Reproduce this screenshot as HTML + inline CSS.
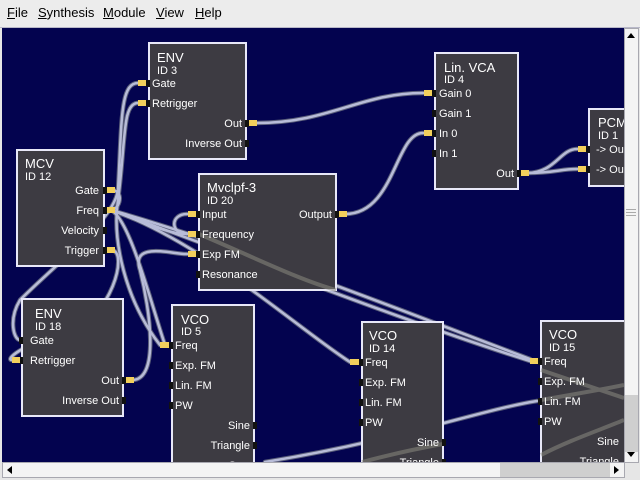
<!DOCTYPE html>
<html><head><meta charset="utf-8"><style>
html,body{margin:0;padding:0;width:640px;height:480px;overflow:hidden;background:#e6e6e6;font-family:"Liberation Sans",sans-serif}
#menu{position:absolute;left:0;top:0;width:640px;height:27px;background:#ececec;border-bottom:1px solid #b8b8c8;font-size:13px}
#menu span{position:absolute;top:5px;color:#000}
svg{position:absolute;left:0;top:0}
</style></head><body>
<div id="menu"><span style="left:7px"><u>F</u>ile</span><span style="left:38px"><u>S</u>ynthesis</span><span style="left:103px"><u>M</u>odule</span><span style="left:156px"><u>V</u>iew</span><span style="left:195px"><u>H</u>elp</span></div>
<svg width="640" height="480" viewBox="0 0 640 480" font-family="Liberation Sans, sans-serif" font-size="11" fill="#fff">
<defs><clipPath id="c"><rect x="2" y="28" width="622" height="434"/></clipPath></defs>
<rect x="2" y="28" width="622" height="434" fill="#03034f"/>
<g clip-path="url(#c)">
<!-- cables -->
<g fill="none" stroke-linecap="round">
<g stroke="#5a5e7a" stroke-width="4.5">
<path d="M138 83 C120 83 122 120 118 190 C114 220 60 260 20 300 C8 320 14 340 20 340"/>
<path d="M138 103 C122 103 126 140 118 200 C112 240 125 300 160 345"/>
<path d="M256 123 C330 123 360 93 423 93"/>
<path d="M345 214 C395 214 395 133 423 133"/>
<path d="M527 173 C555 173 560 149 577 149"/>
<path d="M527 173 C555 173 560 169 577 169"/>
<path d="M111 190 C125 190 120 210 111 210"/>
<path d="M111 210 C150 225 170 234 187 234"/>
<path d="M111 210 C130 220 150 300 165 345"/>
<path d="M111 210 C200 240 300 330 350 362"/>
<path d="M111 210 C250 260 400 320 530 361"/>
<path d="M111 210 C250 250 400 310 530 359"/>
<path d="M111 250 C130 250 110 320 70 330 C20 345 5 360 12 360"/>
<path d="M132 380 C160 380 150 310 140 270 C130 240 175 255 187 254"/>
<path d="M187 214 C170 214 170 234 187 234"/>
<path d="M265 462 C400 440 480 410 537 401"/>
</g>
<g stroke="#b8bcd8" stroke-width="2.5">
<path d="M138 83 C120 83 122 120 118 190 C114 220 60 260 20 300 C8 320 14 340 20 340"/>
<path d="M138 103 C122 103 126 140 118 200 C112 240 125 300 160 345"/>
<path d="M256 123 C330 123 360 93 423 93"/>
<path d="M345 214 C395 214 395 133 423 133"/>
<path d="M527 173 C555 173 560 149 577 149"/>
<path d="M527 173 C555 173 560 169 577 169"/>
<path d="M111 190 C125 190 120 210 111 210"/>
<path d="M111 210 C150 225 170 234 187 234"/>
<path d="M111 210 C130 220 150 300 165 345"/>
<path d="M111 210 C200 240 300 330 350 362"/>
<path d="M111 210 C250 260 400 320 530 361"/>
<path d="M111 210 C250 250 400 310 530 359"/>
<path d="M111 250 C130 250 110 320 70 330 C20 345 5 360 12 360"/>
<path d="M132 380 C160 380 150 310 140 270 C130 240 175 255 187 254"/>
<path d="M187 214 C170 214 170 234 187 234"/>
<path d="M265 462 C400 440 480 410 537 401"/>
</g>
</g>
<!-- modules -->
<g stroke="#e8e8f8" stroke-width="2" fill="#3d3b42">
<rect x="149" y="43" width="97" height="116"/>
<rect x="17" y="150" width="87" height="116"/>
<rect x="199" y="174" width="137" height="116"/>
<rect x="435" y="53" width="83" height="136"/>
<rect x="589" y="109" width="40" height="77"/>
<rect x="22" y="299" width="101" height="117"/>
<rect x="172" y="305" width="82" height="170"/>
<rect x="362" y="322" width="81" height="160"/>
<rect x="541" y="321" width="90" height="160"/>
</g>
<g fill="none" stroke="#8a8a80" stroke-width="4" opacity="0.55">
<path d="M199 234 C260 260 300 280 336 290"/>
<path d="M541 370 C570 380 600 390 624 398"/>
<path d="M541 455 C570 440 600 430 624 420"/>
<path d="M541 400 C570 395 600 390 624 385"/>
<path d="M362 462 C400 452 420 448 443 444"/>
</g>
<g font-size="13"><text x="157" y="62">ENV</text><text x="25" y="168">MCV</text><text x="207" y="192">Mvclpf-3</text><text x="444" y="72">Lin. VCA</text><text x="598" y="127">PCM</text><text x="35" y="318">ENV</text><text x="181" y="324">VCO</text><text x="369" y="340">VCO</text><text x="549" y="339">VCO</text></g>
<text x="157" y="74">ID 3</text><text x="25" y="180">ID 12</text><text x="207" y="204">ID 20</text><text x="444" y="83">ID 4</text><text x="598" y="139">ID 1</text><text x="35" y="330">ID 18</text><text x="181" y="335">ID 5</text><text x="369" y="352">ID 14</text><text x="549" y="351">ID 15</text>
<text x="152" y="87">Gate</text><text x="152" y="107">Retrigger</text>
<text x="202" y="218">Input</text><text x="202" y="238">Frequency</text><text x="202" y="258">Exp FM</text><text x="202" y="278">Resonance</text>
<text x="439" y="97">Gain 0</text><text x="439" y="117">Gain 1</text><text x="439" y="137">In 0</text><text x="439" y="157">In 1</text>
<text x="596" y="153">-&gt; Ou</text><text x="596" y="173">-&gt; Ou</text>
<text x="30" y="344">Gate</text><text x="30" y="364">Retrigger</text>
<text x="175" y="349">Freq</text><text x="175" y="369">Exp. FM</text><text x="175" y="389">Lin. FM</text><text x="175" y="409">PW</text>
<text x="365" y="366">Freq</text><text x="365" y="386">Exp. FM</text><text x="365" y="406">Lin. FM</text><text x="365" y="426">PW</text>
<text x="544" y="365">Freq</text><text x="544" y="385">Exp. FM</text><text x="544" y="405">Lin. FM</text><text x="544" y="425">PW</text>
<g text-anchor="end">
<text x="242" y="127">Out</text><text x="242" y="147">Inverse Out</text>
<text x="99" y="194">Gate</text><text x="99" y="214">Freq</text><text x="99" y="234">Velocity</text><text x="99" y="254">Trigger</text>
<text x="332" y="218">Output</text><text x="514" y="177">Out</text>
<text x="119" y="384">Out</text><text x="119" y="404">Inverse Out</text>
<text x="250" y="429">Sine</text><text x="250" y="449">Triangle</text><text x="250" y="469">Saw</text>
<text x="439" y="446">Sine</text><text x="439" y="466">Triangle</text>
<text x="619" y="445">Sine</text><text x="619" y="465">Triangle</text>
</g>
<g fill="#111">
<rect x="146" y="80" width="4" height="7"/><rect x="146" y="100" width="4" height="7"/><rect x="245" y="120" width="4" height="7"/><rect x="245" y="140" width="4" height="7"/>
<rect x="103" y="187" width="4" height="7"/><rect x="103" y="207" width="4" height="7"/><rect x="103" y="227" width="4" height="7"/><rect x="103" y="247" width="4" height="7"/>
<rect x="196" y="211" width="4" height="7"/><rect x="196" y="231" width="4" height="7"/><rect x="196" y="251" width="4" height="7"/><rect x="196" y="271" width="4" height="7"/><rect x="335" y="211" width="4" height="7"/>
<rect x="432" y="90" width="4" height="7"/><rect x="432" y="110" width="4" height="7"/><rect x="432" y="130" width="4" height="7"/><rect x="432" y="150" width="4" height="7"/><rect x="517" y="170" width="4" height="7"/>
<rect x="586" y="146" width="4" height="7"/><rect x="586" y="166" width="4" height="7"/>
<rect x="19" y="337" width="4" height="7"/><rect x="19" y="357" width="4" height="7"/><rect x="122" y="377" width="4" height="7"/><rect x="122" y="397" width="4" height="7"/>
<rect x="169" y="342" width="4" height="7"/><rect x="169" y="362" width="4" height="7"/><rect x="169" y="382" width="4" height="7"/><rect x="169" y="402" width="4" height="7"/><rect x="253" y="422" width="4" height="7"/><rect x="253" y="442" width="4" height="7"/>
<rect x="359" y="359" width="4" height="7"/><rect x="359" y="379" width="4" height="7"/><rect x="359" y="399" width="4" height="7"/><rect x="359" y="419" width="4" height="7"/><rect x="442" y="439" width="4" height="7"/><rect x="442" y="459" width="4" height="7"/>
<rect x="538" y="358" width="4" height="7"/><rect x="538" y="378" width="4" height="7"/><rect x="538" y="398" width="4" height="7"/><rect x="538" y="418" width="4" height="7"/>
</g>
<g fill="#f2cf5c">
<rect x="138" y="80" width="8" height="6"/><rect x="138" y="100" width="8" height="6"/><rect x="249" y="120" width="8" height="6"/>
<rect x="107" y="187" width="8" height="6"/><rect x="107" y="207" width="8" height="6"/><rect x="107" y="247" width="8" height="6"/>
<rect x="188" y="211" width="8" height="6"/><rect x="188" y="231" width="8" height="6"/><rect x="188" y="251" width="8" height="6"/><rect x="339" y="211" width="8" height="6"/>
<rect x="424" y="90" width="8" height="6"/><rect x="424" y="130" width="8" height="6"/><rect x="521" y="170" width="8" height="6"/>
<rect x="578" y="146" width="8" height="6"/><rect x="578" y="166" width="8" height="6"/>
<rect x="12" y="357" width="8" height="6"/><rect x="126" y="377" width="8" height="6"/>
<rect x="160" y="342" width="9" height="6"/><rect x="350" y="359" width="9" height="6"/><rect x="530" y="358" width="8" height="6"/>
</g>
</g>
<!-- scrollbars -->
<rect x="624.5" y="28.5" width="14" height="434" fill="#f4f4f4" stroke="#a8a8b0"/>
<rect x="625" y="395" width="13" height="57" fill="#cfcfcf"/>
<path d="M627 38 L635 38 L631 33Z M627 452 L635 452 L631 457Z" fill="#000"/>
<rect x="626" y="209" width="10" height="1" fill="#aaa"/><rect x="626" y="212" width="10" height="1" fill="#aaa"/><rect x="626" y="215" width="10" height="1" fill="#aaa"/>
<rect x="2.5" y="462.5" width="622" height="15" fill="#f4f4f4" stroke="#a8a8b0"/>
<rect x="500" y="463" width="110" height="14" fill="#cfcfcf"/>
<path d="M12 466 L12 474 L7 470Z M614 466 L614 474 L619 470Z" fill="#000"/>
<rect x="625" y="463" width="15" height="17" fill="#e6e6e6"/>
</svg>
</body></html>
